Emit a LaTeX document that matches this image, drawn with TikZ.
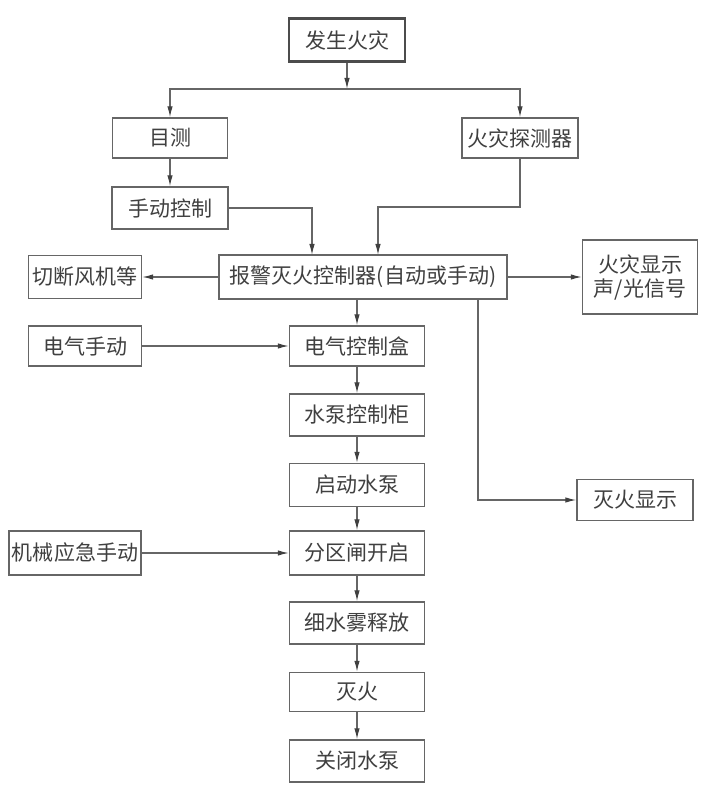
\documentclass[tikz,border=0pt]{standalone}
\usepackage{fontspec}
\setmainfont{Noto Sans CJK SC}
\usetikzlibrary{positioning,calc,arrows.meta}

\tikzset{
    blk/.style={draw=black!60, line width=1.4pt, fill=white, inner sep=0pt, align=center,
        text=black!75, font=\fontsize{21}{24}\selectfont},
    topblk/.style={blk, line width=2.6pt, draw=black!70},
    arr/.style={draw=black!60, line width=1.2pt, -{Latex[length=11pt,width=5.5pt,color=black!75]}}
}

\begin{document}
\begin{tikzpicture}[x=1pt,y=-1pt]
    \useasboundingbox (0,0) rectangle (718,799);

    % detection part
    \node[topblk, minimum width=116, minimum height=43] (fire) at (347,40) {发生火灾};
    \node[blk, minimum width=115, minimum height=40] (eye) at (170,138) {目测};
    \node[blk, minimum width=116, minimum height=40] (det) at (520,138) {火灾探测器};
    \node[blk, minimum width=116, minimum height=42] (hand) at (170,208) {手动控制};

    % controller and its outputs
    \node[blk, minimum width=288, minimum height=44] (alarm) at (363,277) {报警灭火控制器(自动或手动)};
    \node[blk, minimum width=113, minimum height=43] (fan) at (85,277) {切断风机等};
    \node[blk, minimum width=115, minimum height=74] (sig) at (640,277) {火灾显示\\声/光信号};
    \node[blk, minimum width=116, minimum height=41] (disp) at (635,500) {灭火显示};

    % main chain
    \node[blk, minimum width=113, minimum height=40] (elec) at (85,346) {电气手动};
    \node[blk, minimum width=135, minimum height=40] (ebox) at (357,346) {电气控制盒};
    \node[blk, minimum width=135, minimum height=42] (pcab) at (357,415) {水泵控制柜};
    \node[blk, minimum width=135, minimum height=43] (pon) at (357,485) {启动水泵};
    \node[blk, minimum width=132, minimum height=44] (mech) at (75,553) {机械应急手动};
    \node[blk, minimum width=135, minimum height=44] (zone) at (357,553) {分区闸开启};
    \node[blk, minimum width=135, minimum height=42] (mist) at (357,623) {细水雾释放};
    \node[blk, minimum width=135, minimum height=39] (ext) at (357,692) {灭火};
    \node[blk, minimum width=135, minimum height=42] (poff) at (357,761) {关闭水泵};

    % branch points
    \coordinate (br) at (347,89);
    \coordinate (k1) at (312,255);
    \coordinate (k2) at (378,207);
    \coordinate (k3) at (378,255);
    \coordinate (k4) at (478,299);

    \draw[arr] (fire.south) -- (br);
    \draw[arr] (br) -| (eye.north);
    \draw[arr] (br) -| (det.north);
    \draw[arr] (eye) -- (hand);
    \draw[arr] (hand.east) -| (k1);
    \draw[arr] (det.south) |- (k2) -- (k3);

    \draw[arr] (alarm) -- (fan);
    \draw[arr] (alarm) -- (sig);
    \draw[arr] (k4) |- (disp.west);
    \draw[arr] (alarm.south -| ebox.north) -- (ebox);
    \draw[arr] (elec) -- (ebox);

    \draw[arr] (ebox) -- (pcab);
    \draw[arr] (pcab) -- (pon);
    \draw[arr] (pon) -- (zone);
    \draw[arr] (mech) -- (zone);
    \draw[arr] (zone) -- (mist);
    \draw[arr] (mist) -- (ext);
    \draw[arr] (ext) -- (poff);

\end{tikzpicture}
\end{document}
